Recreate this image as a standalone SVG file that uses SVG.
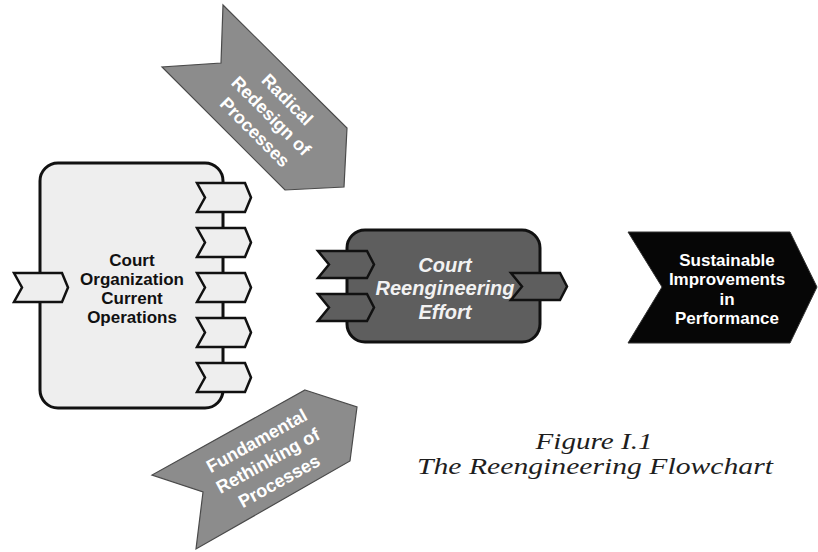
<svg xmlns="http://www.w3.org/2000/svg" width="818" height="552" viewBox="0 0 818 552">
  <defs>
    <style>
      .bg { fill: #ffffff; }
      .box-light { fill: #eeeeee; stroke: #111111; stroke-width: 3; }
      .box-dark { fill: #5e5e5e; stroke: #111111; stroke-width: 3; }
      .chev-light { fill: #eeeeee; stroke: #111111; stroke-width: 2.5; stroke-linejoin: miter; }
      .chev-dark { fill: #5e5e5e; stroke: #111111; stroke-width: 2.5; stroke-linejoin: miter; }
      .big-arrow { fill: #8c8c8c; stroke: #4a4a4a; stroke-width: 1.2; }
      .goal-arrow { fill: #060606; stroke: #333333; stroke-width: 1; }
      .lbl { font-family: "Liberation Sans", Arial, sans-serif; font-weight: bold; text-anchor: middle; }
      .lbl-dark { fill: #111111; font-size: 17px; }
      .lbl-white { fill: #ffffff; font-size: 17px; }
      .lbl-arrow { fill: #ffffff; font-size: 18px; }
      .lbl-effort { fill: #f2f2f2; font-size: 20px; font-style: italic; }
      .caption { font-family: "Liberation Serif", "Times New Roman", serif; font-style: italic; font-size: 23px; fill: #1e1e1e; text-anchor: middle; }
    </style>
    <!-- chevron connectors used on the process boxes -->
    <path id="chev" d="M0,0 L48,0 L54,14.5 L48,29 L0,29 L8,14.5 Z"/>
    <path id="chev2" d="M0,0 L49,0 L56,13.5 L49,27 L0,27 L11,13.5 Z"/>
  </defs>

  <rect class="bg" x="0" y="0" width="818" height="552"/>

  <!-- Input arrow: Radical Redesign of Processes -->
  <g id="radical-redesign">
    <polygon class="big-arrow" points="223,5 347,128 344,187 285,190 162,67 221,63"/>
    <g transform="translate(271,116) rotate(45)">
      <text class="lbl lbl-arrow" x="0" y="-17">Radical</text>
      <text class="lbl lbl-arrow" x="0" y="6">Redesign of</text>
      <text class="lbl lbl-arrow" x="0" y="29">Processes</text>
    </g>
  </g>

  <!-- Input arrow: Fundamental Rethinking of Processes -->
  <g id="fundamental-rethinking">
    <polygon class="big-arrow" points="305,390 357,407 350,461 196,549 203,492 152,475"/>
    <g transform="translate(268,461) rotate(-29)">
      <text class="lbl lbl-arrow" x="0" y="-17">Fundamental</text>
      <text class="lbl lbl-arrow" x="0" y="6">Rethinking of</text>
      <text class="lbl lbl-arrow" x="0" y="29">Processes</text>
    </g>
  </g>

  <!-- Current operations box with its input and output ports -->
  <g id="current-operations">
    <rect class="box-light" x="40" y="163" width="183" height="245" rx="18" ry="18"/>
    <use href="#chev" class="chev-light" x="14" y="273"/>
    <use href="#chev" class="chev-light" x="197" y="183"/>
    <use href="#chev" class="chev-light" x="197" y="228"/>
    <use href="#chev" class="chev-light" x="197" y="273"/>
    <use href="#chev" class="chev-light" x="197" y="318"/>
    <use href="#chev" class="chev-light" x="197" y="363"/>
    <text class="lbl lbl-dark" x="132" y="266">Court</text>
    <text class="lbl lbl-dark" x="132" y="285">Organization</text>
    <text class="lbl lbl-dark" x="132" y="304">Current</text>
    <text class="lbl lbl-dark" x="132" y="323">Operations</text>
  </g>

  <!-- Reengineering effort box -->
  <g id="reengineering-effort">
    <rect class="box-dark" x="347" y="230" width="193" height="112" rx="18" ry="18"/>
    <use href="#chev2" class="chev-dark" x="318" y="251"/>
    <use href="#chev2" class="chev-dark" x="318" y="294"/>
    <use href="#chev2" class="chev-dark" x="511" y="273"/>
    <text class="lbl lbl-effort" x="445" y="272">Court</text>
    <text class="lbl lbl-effort" x="445" y="295">Reengineering</text>
    <text class="lbl lbl-effort" x="445" y="319">Effort</text>
  </g>

  <!-- Outcome arrow -->
  <g id="sustainable-improvements">
    <polygon class="goal-arrow" points="628,232 790,232 817,287 790,343 628,343 662,287"/>
    <text class="lbl lbl-white" x="727" y="266">Sustainable</text>
    <text class="lbl lbl-white" x="727" y="285">Improvements</text>
    <text class="lbl lbl-white" x="727" y="305">in</text>
    <text class="lbl lbl-white" x="727" y="324">Performance</text>
  </g>

  <!-- Figure caption -->
  <g id="caption">
    <text class="caption" x="594" y="449" textLength="117" lengthAdjust="spacingAndGlyphs">Figure I.1</text>
    <text class="caption" x="595" y="474" textLength="356" lengthAdjust="spacingAndGlyphs">The Reengineering Flowchart</text>
  </g>

  <g id="connectors"></g>
</svg>
